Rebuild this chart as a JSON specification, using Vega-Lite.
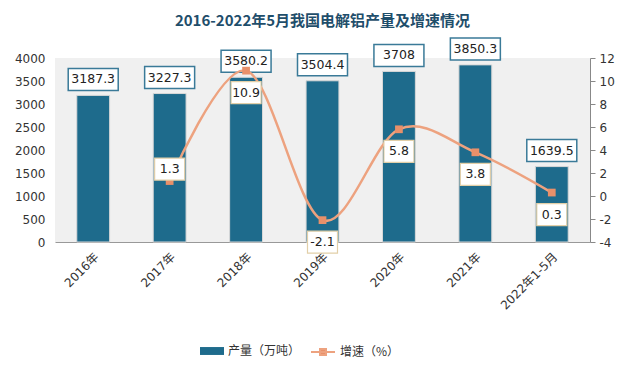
{
  "$schema": "https://vega.github.io/schema/vega-lite/v6.json",
  "width": 535,
  "height": 184,
  "autosize": {"type": "none"},
  "padding": {"left": 55, "top": 58, "right": 45, "bottom": 135},
  "background": "white",
  "title": {
    "text": "2016-2022年5月我国电解铝产量及增速情况",
    "font": "'Noto Sans CJK SC'",
    "fontSize": 15,
    "fontWeight": "bold",
    "color": "#1f4e6b",
    "anchor": "middle",
    "offset": 6
  },
  "config": {
    "view": {"fill": "#f0f0f0", "stroke": null},
    "font": "'DejaVu Sans', 'Noto Sans CJK SC'",
    "axis": {"labelFont": "'DejaVu Sans', 'Noto Sans CJK SC'", "labelFontSize": 12, "labelColor": "#333333", "grid": false, "title": null},
    "legend": {"labelFont": "'Noto Sans CJK SC'", "labelFontSize": 12, "labelColor": "#333333", "symbolSize": 576, "padding": 5, "title": null, "orient": "none"}
  },
  "data": {
    "values": [
      {"year": "2016年", "output": 3187.3, "growth": null},
      {"year": "2017年", "output": 3227.3, "growth": 1.3},
      {"year": "2018年", "output": 3580.2, "growth": 10.9},
      {"year": "2019年", "output": 3504.4, "growth": -2.1},
      {"year": "2020年", "output": 3708, "growth": 5.8},
      {"year": "2021年", "output": 3850.3, "growth": 3.8},
      {"year": "2022年1-5月", "output": 1639.5, "growth": 0.3}
    ]
  },
  "encoding": {
    "x": {
      "field": "year",
      "type": "nominal",
      "sort": null,
      "scale": {"paddingInner": 0.57, "paddingOuter": 0.285},
      "axis": {"labelAngle": -45, "ticks": false, "domainColor": "#999999", "labelPadding": 9}
    }
  },
  "layer": [
    {
      "encoding": {
        "y": {
          "field": "output",
          "type": "quantitative",
          "scale": {"domain": [0, 4000]},
          "axis": {"orient": "left", "values": [0, 500, 1000, 1500, 2000, 2500, 3000, 3500, 4000], "format": "d", "ticks": false, "domain": false, "labelPadding": 10}
        }
      },
      "layer": [
        {
          "mark": {"type": "bar", "stroke": "#d8d8d8", "strokeWidth": 1},
          "encoding": {
            "fill": {
              "datum": "产量（万吨）",
              "type": "nominal",
              "scale": {"range": ["#1e6b8c"]},
              "legend": {
                "orient": "none",
                "legendX": 140,
                "legendY": 276,
                "symbolType": "M-1,-0.33H1V0.33H-1Z",
                "symbolStrokeColor": "#1e6b8c",
                "symbolStrokeWidth": 0
              }
            }
          }
        },
        {
          "mark": {"type": "point", "shape": "M-2.5,-1.1H2.5V1.1H-2.5Z", "size": 400, "filled": true, "fill": "white", "stroke": "#3a7a98", "strokeWidth": 1.5, "opacity": 1, "yOffset": -16}
        },
        {
          "mark": {"type": "text", "fontSize": 12.5, "color": "#222222", "baseline": "middle", "yOffset": -16, "font": "'DejaVu Sans'"},
          "encoding": {"text": {"field": "output", "type": "nominal"}}
        }
      ]
    },
    {
      "transform": [{"filter": "datum.growth != null"}],
      "encoding": {
        "y": {
          "field": "growth",
          "type": "quantitative",
          "scale": {"domain": [-4, 12]},
          "axis": {"orient": "right", "values": [-4, -2, 0, 2, 4, 6, 8, 10, 12], "labelExpr": "'' + datum.value", "ticks": true, "tickSize": 5, "tickColor": "#888888", "domainColor": "#888888", "labelPadding": 4}
        }
      },
      "layer": [
        {
          "mark": {"type": "line", "interpolate": "cardinal", "strokeWidth": 2.5},
          "encoding": {
            "stroke": {
              "datum": "增速（%）",
              "type": "nominal",
              "scale": {"range": ["#eda27f"]},
              "legend": {
                "orient": "none",
                "legendX": 250,
                "legendY": 276,
                "symbolType": "M-1,0H1M-0.25,-0.25H0.25V0.25H-0.25Z",
                "symbolStrokeWidth": 2,
                "symbolFillColor": "#e8906a"
              }
            }
          }
        },
        {
          "mark": {"type": "point", "shape": "square", "size": 60, "filled": true, "fill": "#e8906a", "opacity": 1}
        },
        {
          "transform": [{"filter": "datum.growth > 1.5 || datum.growth < 1"}],
          "layer": [
            {"mark": {"type": "point", "shape": "M-1.5,-1.1H1.5V1.1H-1.5Z", "size": 400, "filled": true, "fill": "white", "stroke": "#e2cfa8", "strokeWidth": 1.2, "opacity": 1, "yOffset": 22}},
            {"mark": {"type": "text", "fontSize": 12.5, "color": "#222222", "baseline": "middle", "yOffset": 22, "font": "'DejaVu Sans'"}, "encoding": {"text": {"field": "growth", "type": "nominal"}}}
          ]
        },
        {
          "transform": [{"filter": "datum.growth >= 1 && datum.growth <= 1.5"}],
          "layer": [
            {"mark": {"type": "point", "shape": "M-1.5,-1.1H1.5V1.1H-1.5Z", "size": 400, "filled": true, "fill": "white", "stroke": "#e2cfa8", "strokeWidth": 1.2, "opacity": 1, "yOffset": -12}},
            {"mark": {"type": "text", "fontSize": 12.5, "color": "#222222", "baseline": "middle", "yOffset": -12, "font": "'DejaVu Sans'"}, "encoding": {"text": {"field": "growth", "type": "nominal"}}}
          ]
        }
      ]
    }
  ],
  "resolve": {"scale": {"y": "independent"}}
}
